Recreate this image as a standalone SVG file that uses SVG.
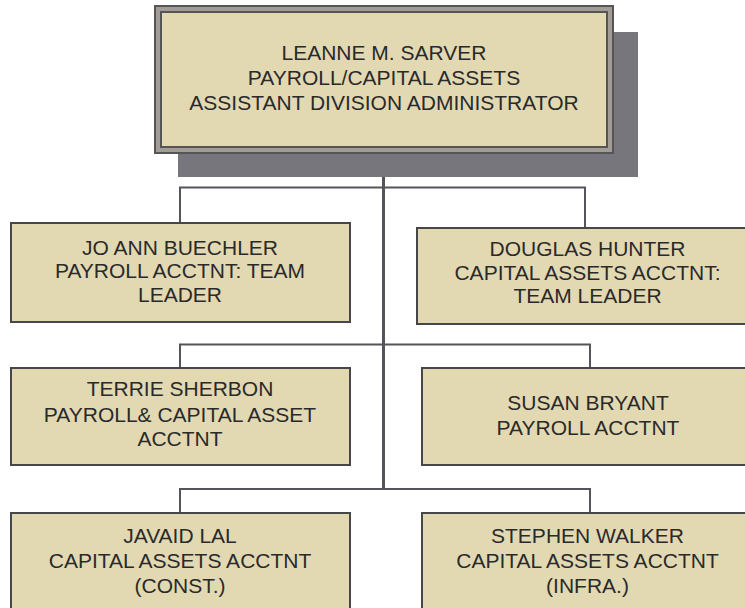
<svg xmlns="http://www.w3.org/2000/svg" width="745" height="608" viewBox="0 0 745 608">
<style>
.box{fill:#e2d9b3;stroke:#474747;stroke-width:2}
.t{font-family:"Liberation Sans",Arial,sans-serif;font-size:21px;fill:#2a2a2a;text-anchor:middle}
.c{fill:none;stroke:#55545a;stroke-width:2}
</style>
<rect width="745" height="608" fill="#ffffff"/>
<g id="connectors">
<path class="c" d="M383.5 152 V489" style="stroke-width:3"/>
<path class="c" d="M180 223 V187.5 H585 V228"/>
<path class="c" d="M180 368 V344.5 H590 V368"/>
<path class="c" d="M180 513 V489 H590 V513"/>
</g>
<g id="n-sarver">
<rect x="178" y="32" width="460" height="145" fill="#77767d"/>
<rect x="155" y="6" width="458" height="147" fill="#a19d96" stroke="#555" stroke-width="2"/>
<rect x="161" y="12" width="446" height="135" fill="#e2d9b3" stroke="#555" stroke-width="2"/>
<text class="t" x="384" y="60">LEANNE M. SARVER</text>
<text class="t" x="384" y="84.5">PAYROLL/CAPITAL ASSETS</text>
<text class="t" x="384" y="109.5">ASSISTANT DIVISION ADMINISTRATOR</text>
</g>
<g id="n-buechler">
<rect class="box" x="11" y="223" width="339" height="99"/>
<text class="t" x="180" y="254.5">JO ANN BUECHLER</text>
<text class="t" x="180" y="278">PAYROLL ACCTNT: TEAM</text>
<text class="t" x="180" y="301.5">LEADER</text>
</g>
<g id="n-hunter">
<rect class="box" x="417" y="228" width="340" height="96"/>
<text class="t" x="587.5" y="255.5">DOUGLAS HUNTER</text>
<text class="t" x="587.5" y="279.5">CAPITAL ASSETS ACCTNT:</text>
<text class="t" x="587.5" y="303">TEAM LEADER</text>
</g>
<g id="n-sherbon">
<rect class="box" x="11" y="368" width="339" height="97"/>
<text class="t" x="180" y="395.5">TERRIE SHERBON</text>
<text class="t" x="180" y="422">PAYROLL&amp; CAPITAL ASSET</text>
<text class="t" x="180" y="445.5">ACCTNT</text>
</g>
<g id="n-bryant">
<rect class="box" x="422" y="368" width="334" height="97"/>
<text class="t" x="588" y="409.5">SUSAN BRYANT</text>
<text class="t" x="588" y="434.5">PAYROLL ACCTNT</text>
</g>
<g id="n-lal">
<rect class="box" x="11" y="513" width="339" height="100"/>
<text class="t" x="180" y="542.5">JAVAID LAL</text>
<text class="t" x="180" y="567.5">CAPITAL ASSETS ACCTNT</text>
<text class="t" x="180" y="592.5">(CONST.)</text>
</g>
<g id="n-walker">
<rect class="box" x="422" y="513" width="334" height="100"/>
<text class="t" x="587.5" y="542.5">STEPHEN WALKER</text>
<text class="t" x="587.5" y="567.5">CAPITAL ASSETS ACCTNT</text>
<text class="t" x="587.5" y="592.5">(INFRA.)</text>
</g>
</svg>
